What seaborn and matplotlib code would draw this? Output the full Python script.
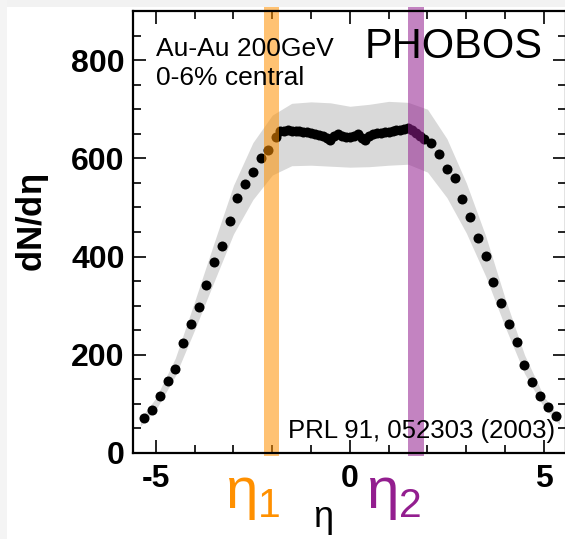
import matplotlib
matplotlib.use("Agg")
import matplotlib.pyplot as plt
import matplotlib.patches as mpatches
import seaborn as sns

# PHOBOS Au-Au 200 GeV, 0-6% central, dN/deta vs eta
eta = [-5.3, -5.1, -4.9, -4.7, -4.5, -4.3, -4.1, -3.9, -3.7, -3.5, -3.3, -3.1,
       -2.9, -2.7, -2.5, -2.3, -2.1, -1.9,
       -1.8, -1.7, -1.6, -1.5, -1.4, -1.3, -1.2, -1.1, -1.0, -0.9, -0.8, -0.7,
       -0.6, -0.5, -0.4, -0.3, -0.2, -0.1, 0.0, 0.1, 0.2, 0.3, 0.4, 0.5, 0.6,
       0.7, 0.8, 0.9, 1.0, 1.1, 1.2, 1.3, 1.4, 1.5, 1.6, 1.7, 1.8, 1.9,
       2.1, 2.3, 2.5, 2.7, 2.9, 3.1, 3.3, 3.5, 3.7, 3.9, 4.1, 4.3, 4.5, 4.7,
       4.9, 5.1, 5.3]
dndeta = [71, 88, 116, 146, 172, 223, 262, 298, 343, 388, 422, 473,
          519, 548, 573, 600, 616, 643,
          655, 656, 657, 656, 656, 655, 654, 653, 652, 650, 648, 645,
          641, 637, 645, 650, 646, 643, 643, 646, 650, 641, 638, 646, 650,
          651, 652, 653, 654, 655, 657, 658, 659, 661, 657, 651, 645, 640,
          631, 609, 578, 560, 517, 480, 437, 401, 348, 305, 263, 227, 180, 145,
          116, 94, 75]

# systematic error band edges
band_eta = [-5.4, -5.0, -4.5, -4.0, -3.5, -3.0, -2.5, -2.0, -1.5, -1.0, -0.5,
            0.0, 0.5, 1.0, 1.5, 2.0, 2.5, 3.0, 3.5, 4.0, 4.5, 5.0, 5.4]
band_hi = [70, 112, 193, 309, 428, 545, 632, 688, 712, 715, 713,
           706, 710, 716, 714, 700, 640, 550, 442, 315, 200, 115, 73]
band_lo = [55, 88, 157, 251, 349, 446, 516, 566, 585, 586, 584,
           582, 583, 586, 588, 572, 520, 448, 360, 257, 162, 93, 58]

eta1_span = (-2.22, -1.83)
eta2_span = (1.50, 1.90)

sns.set_theme(style="ticks")
plt.rcParams["font.family"] = ["Liberation Sans", "DejaVu Sans"]
plt.rcParams["mathtext.default"] = "regular"
plt.rcParams.update({
    "xtick.direction": "in", "ytick.direction": "in",
    "xtick.top": True, "ytick.right": True,
    "xtick.major.size": 9.5, "ytick.major.size": 9.5,
    "xtick.minor.size": 5.5, "ytick.minor.size": 5.5,
    "xtick.major.width": 1.2, "ytick.major.width": 1.2,
    "xtick.minor.width": 1.2, "ytick.minor.width": 1.2,
    "xtick.minor.visible": True, "ytick.minor.visible": True,
    "xtick.color": "black", "ytick.color": "black",
})

fig = plt.figure(figsize=(5.65, 5.39), dpi=100)
fig.patch.set_facecolor("white")
ax = fig.add_axes([133 / 565, 86 / 539, 433 / 565, 442 / 539])

# light grey screenshot border (top and left)
fig.patches.append(mpatches.Rectangle((0, 1 - 7 / 539), 1, 7 / 539,
                                      transform=fig.transFigure,
                                      color="#f2f2f2", lw=0, zorder=0))
fig.patches.append(mpatches.Rectangle((0, 0), 7 / 565, 1,
                                      transform=fig.transFigure,
                                      color="#f4f4f4", lw=0, zorder=0))

ax.fill_between(band_eta, band_lo, band_hi, color="#d9d9d9", lw=0, zorder=1)
sns.scatterplot(x=eta, y=dndeta, color="black", s=52, linewidth=0,
                ax=ax, zorder=2)

ax.axvspan(*eta1_span, ymin=-0.006, ymax=1.008, color="#ff9000", alpha=0.55,
           lw=0, clip_on=False, zorder=3)
ax.axvspan(*eta2_span, ymin=-0.006, ymax=1.008, color="#931e8f", alpha=0.55,
           lw=0, clip_on=False, zorder=3)

ax.set_xlim(-5.59, 5.57)
ax.set_ylim(0, 900)
ax.set_xticks([-5, 0, 5])
ax.set_xticklabels(["-5", "0", "5"], fontweight="bold")
ax.set_xticks([-4, -3, -2, -1, 1, 2, 3, 4], minor=True)
ax.set_yticks([0, 200, 400, 600, 800])
ax.set_yticklabels(["0", "200", "400", "600", "800"], fontweight="bold")
ax.set_yticks([50, 100, 150, 250, 300, 350, 450, 500, 550, 650, 700, 750, 850],
              minor=True)
ax.tick_params(which="both", direction="in", top=True, right=True,
               bottom=True, left=True, labelsize=23)
ax.tick_params(axis="y", pad=6)
ax.tick_params(axis="x", pad=8)
for s in ax.spines.values():
    s.set_linewidth(1.6)
    s.set_color("black")
    s.set_zorder(5)

ax.set_ylabel(r"dN/d$\eta$", fontsize=25, fontweight="bold", color="black")
ax.yaxis.set_label_coords(-0.19, 0.52)

ax.text(0.439, -0.145, "η", transform=ax.transAxes, fontsize=26,
        ha="center", va="center", color="black")
ax.text(0.277, -0.095, r"$\eta_1$", transform=ax.transAxes, fontsize=42,
        ha="center", va="center", color="#ff9000")
ax.text(0.603, -0.095, r"$\eta_2$", transform=ax.transAxes, fontsize=42,
        ha="center", va="center", color="#931e8f")

ax.text(0.053, 0.898, "Au-Au 200GeV", transform=ax.transAxes, fontsize=19,
        va="baseline", color="black")
ax.text(0.053, 0.833, "0-6% central", transform=ax.transAxes, fontsize=19,
        va="baseline", color="black")
ax.text(0.536, 0.894, "PHOBOS", transform=ax.transAxes, fontsize=30,
        va="baseline", color="black")
ax.text(0.358, 0.034, "PRL 91, 052303 (2003)", transform=ax.transAxes,
        fontsize=18.5, va="baseline", color="black")

fig.savefig("out.png", dpi=100)
